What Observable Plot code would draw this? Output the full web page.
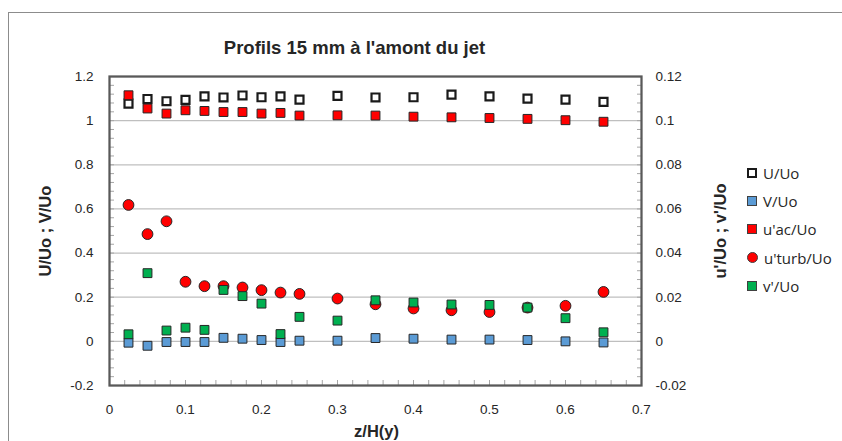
<!DOCTYPE html>
<html><head><meta charset="utf-8">
<script src="https://cdn.jsdelivr.net/npm/d3@7"></script>
<script src="https://cdn.jsdelivr.net/npm/@observablehq/plot@0.6"></script>
<style>
body{margin:0;background:#fff}
#wrap{position:relative;width:842px;height:441px;overflow:hidden;background:#fff}
#border{position:absolute;left:8px;top:12px;width:900px;height:500px;border-left:1.5px solid #8c8c8c;border-top:1.5px solid #8c8c8c;pointer-events:none}
#chart{position:absolute;left:0;top:0}
#legend{position:absolute;left:747px;top:159px;font-family:"Open Sans";font-size:15px;color:#262626}
.item{height:28.2px;display:flex;align-items:center;white-space:nowrap}
.sw{width:10px;height:10px;margin-right:6px;box-sizing:border-box;flex:none}
</style></head><body>
<div id="wrap"><div id="border"></div><div id="chart"></div><div id="legend"></div></div>
<script>
// ---- data ----
const title = "Profils 15 mm à l'amont du jet";
const xTitle = "z/H(y)";
const yLeftTitle = "U/Uo ; V/Uo";
const yRightTitle = "u'/Uo ; v'/Uo";
const seriesNames = ["U/Uo", "V/Uo", "u'ac/Uo", "u'turb/Uo", "v'/Uo"];

const zH = [0.025,0.05,0.075,0.1,0.125,0.15,0.175,0.2,0.225,0.25,0.3,0.35,0.4,0.45,0.5,0.55,0.6,0.65];
// primary axis
const U_Uo = [1.077,1.098,1.088,1.094,1.110,1.105,1.114,1.106,1.110,1.095,1.112,1.105,1.106,1.118,1.110,1.100,1.095,1.085];
const V_Uo = [-0.006,-0.020,-0.003,-0.003,-0.003,0.016,0.012,0.006,-0.003,0.003,0.003,0.015,0.012,0.008,0.008,0.006,0.000,-0.005];
// secondary axis
const uac_Uo = [0.1115,0.1055,0.1032,0.1047,0.1044,0.1039,0.1039,0.1032,0.1035,0.1023,0.1024,0.1023,0.1018,0.1015,0.1012,0.1008,0.1002,0.0995];
const uturb_Uo = [0.0618,0.0486,0.0544,0.0270,0.0250,0.0250,0.0244,0.0232,0.0221,0.0215,0.0194,0.0168,0.0149,0.0141,0.0133,0.0153,0.0161,0.0224];
const vp_Uo = [0.0032,0.0309,0.0049,0.0062,0.0052,0.0233,0.0205,0.0171,0.0033,0.0111,0.0094,0.0186,0.0176,0.0167,0.0165,0.0153,0.0105,0.0041];

const xTicks = [0,0.1,0.2,0.3,0.4,0.5,0.6,0.7];
const xTickLabels = ["0","0.1","0.2","0.3","0.4","0.5","0.6","0.7"];
const yTicks = [-0.2,0,0.2,0.4,0.6,0.8,1,1.2];
const yLeftLabels = ["-0.2","0","0.2","0.4","0.6","0.8","1","1.2"];
const yRightLabels = ["-0.02","0","0.02","0.04","0.06","0.08","0.1","0.12"];

// ---- chart ----
const ratio = 1.2 / 0.12; // primary max / secondary max
const prim = arr => zH.map((z, i) => ({z, v: arr[i]}));
const sec = arr => zH.map((z, i) => ({z, v: arr[i] * ratio}));

const minorY = d3.range(36).map(i => -0.2 + i * 0.04);
const minorX = d3.range(36).map(i => i * 0.02);
const lab = (ticks, labels) => d => labels[ticks.findIndex(t => Math.abs(t - d) < 1e-9)];

const edge = "#262626";
const chart = Plot.plot({
  width: 842, height: 441,
  marginLeft: 109, marginRight: 201, marginTop: 76, marginBottom: 56,
  style: {fontFamily: "Liberation Sans", fontSize: "13px", color: "#262626", background: "transparent", overflow: "visible"},
  x: {domain: [0, 0.7], axis: null},
  y: {domain: [-0.2, 1.2], axis: null},
  marks: [
    Plot.gridY(yTicks, {stroke: "#bfbfbf", strokeOpacity: 1, strokeWidth: 1.25}),
    Plot.axisY(minorY, {anchor: "left", tickSize: -5, tickFormat: () => "", stroke: "#a6a6a6", label: null}),
    Plot.axisY(minorY, {anchor: "right", tickSize: -5, tickFormat: () => "", stroke: "#a6a6a6", label: null}),
    Plot.axisX(minorX, {anchor: "bottom", tickSize: -5, tickFormat: () => "", stroke: "#a6a6a6", label: null}),
    Plot.frame({stroke: "#595959", strokeWidth: 2.25}),
    Plot.axisY(yTicks, {anchor: "left", tickSize: 0, tickPadding: 16, tickFormat: lab(yTicks, yLeftLabels), fontSize: 13.5, label: null}),
    Plot.axisY(yTicks, {anchor: "right", tickSize: 0, tickPadding: 14, tickFormat: lab(yTicks, yRightLabels), fontSize: 13.5, label: null}),
    Plot.axisX(xTicks, {anchor: "bottom", tickSize: 0, tickPadding: 19, tickFormat: lab(xTicks, xTickLabels), fontSize: 13.5, label: null}),
    Plot.text([title], {frameAnchor: "top", dx: -21, dy: -28, lineAnchor: "middle", textAnchor: "middle", fontSize: 18.5, fontWeight: "bold", fill: "#262626"}),
    Plot.text([yLeftTitle], {frameAnchor: "left", dx: -64, rotate: -90, textAnchor: "middle", lineAnchor: "middle", fontSize: 16.5, fontWeight: "bold", fill: "#262626"}),
    Plot.text([yRightTitle], {frameAnchor: "right", dx: 79, rotate: -90, textAnchor: "middle", lineAnchor: "middle", fontSize: 16.5, fontWeight: "bold", fill: "#262626"}),
    Plot.text([xTitle], {frameAnchor: "bottom", dx: 1, dy: 46, textAnchor: "middle", lineAnchor: "middle", fontSize: 16.5, fontWeight: "bold", fill: "#262626"}),
    Plot.dot(prim(U_Uo), {x: "z", y: "v", symbol: "square", r: 4.5, fill: "white", stroke: "#1a1a1a", strokeWidth: 2.2}),
    Plot.dot(prim(V_Uo), {x: "z", y: "v", symbol: "square", r: 5, fill: "#5b9bd5", stroke: edge, strokeWidth: 1}),
    Plot.dot(sec(uac_Uo), {x: "z", y: "v", symbol: "square", r: 5, fill: "#ff0000", stroke: edge, strokeWidth: 1}),
    Plot.dot(sec(uturb_Uo), {x: "z", y: "v", symbol: "circle", r: 5.4, fill: "#ff0000", stroke: edge, strokeWidth: 1}),
    Plot.dot(sec(vp_Uo), {x: "z", y: "v", symbol: "square", r: 5, fill: "#00b050", stroke: edge, strokeWidth: 1})
  ]
});
document.getElementById("chart").appendChild(chart);

// legend
const legendStyles = [
  "background:#fff;border:2px solid #1a1a1a",
  "background:#5b9bd5;border:1px solid #404040",
  "background:#ff0000;border:1px solid #404040",
  "background:#ff0000;border:1px solid #404040;border-radius:50%;width:11px;height:11px",
  "background:#00b050;border:1px solid #404040"
];
const legend = document.getElementById("legend");
seriesNames.forEach((name, i) => {
  const item = document.createElement("div");
  item.className = "item";
  const sw = document.createElement("span");
  sw.className = "sw";
  sw.style.cssText += legendStyles[i];
  item.appendChild(sw);
  item.appendChild(document.createTextNode(name));
  legend.appendChild(item);
});
</script>
</body></html>
